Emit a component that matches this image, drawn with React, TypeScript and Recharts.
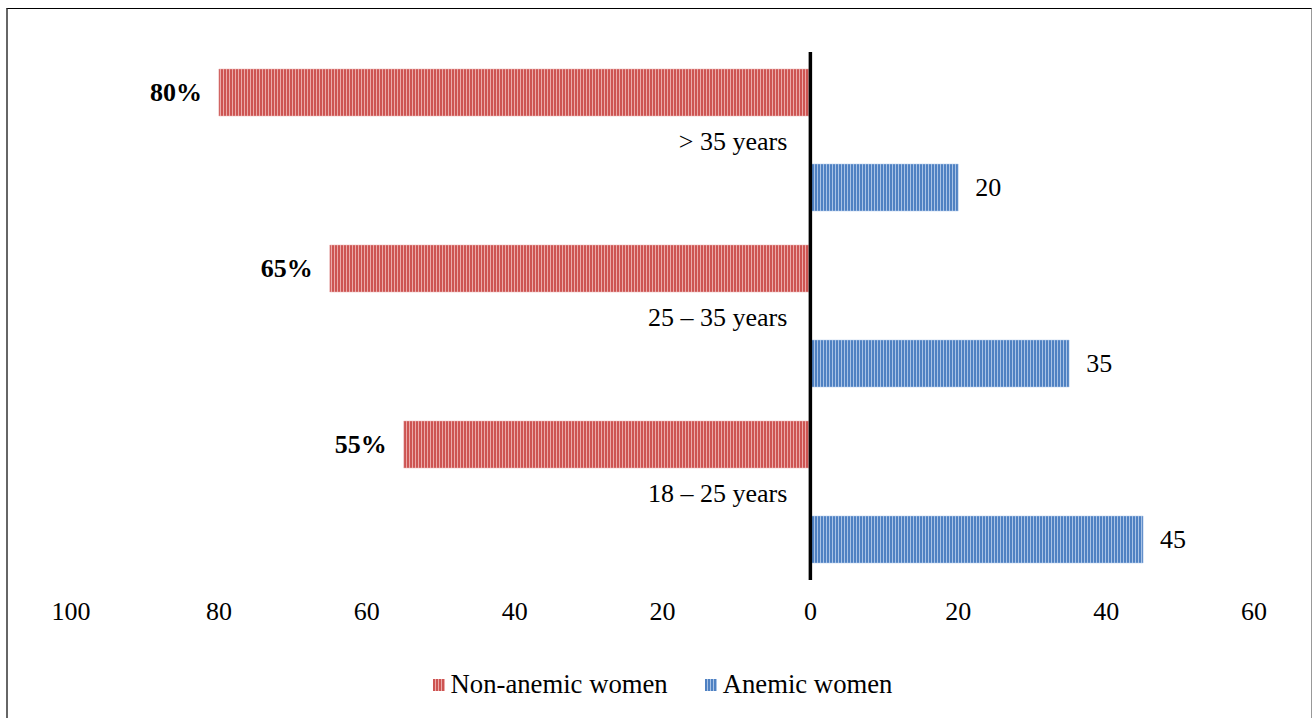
import React from 'react';
import { BarChart, Bar, XAxis, YAxis, ReferenceLine, LabelList, Legend } from 'recharts';

const ageGroups = ['> 35 years', '25 – 35 years', '18 – 25 years'];
const nonAnemic = [80, 65, 55];
const anemic = [20, 35, 45];
const xTicks = [-100, -80, -60, -40, -20, 0, 20, 40, 60];

const data = ageGroups.map((g, i) => ({
  group: g,
  nonAnemic: -nonAnemic[i],
  anemic: anemic[i],
}));

const FONT = '"Liberation Serif", "Times New Roman", serif';

const CategoryLabel = (props: any) => {
  const { x, y, height, value } = props;
  return (
    <text x={x - 23} y={y + height + 25} textAnchor="end" dominantBaseline="central"
      fontFamily={FONT} fontSize={26} fill="#000">
      {value}
    </text>
  );
};

const PercentLabel = (props: any) => {
  const { x, y, width, height, value } = props;
  return (
    <text x={x + width - 17} y={y + height / 2} textAnchor="end" dominantBaseline="central"
      fontFamily={FONT} fontSize={26} fontWeight="bold" fill="#000">
      {`${Math.abs(value)}%`}
    </text>
  );
};

const ValueLabel = (props: any) => {
  const { x, y, width, height, value } = props;
  return (
    <text x={x + width + 17} y={y + height / 2} textAnchor="start" dominantBaseline="central"
      fontFamily={FONT} fontSize={26} fill="#000">
      {value}
    </text>
  );
};

const LegendContent = () => (
  <div style={{ display: 'flex', justifyContent: 'center', alignItems: 'center', fontFamily: FONT, fontSize: 26.7, color: '#000' }}>
    <svg width={12} height={12} style={{ marginRight: 6 }}>
      <rect width={12} height={12} fill="url(#redStripes)" />
    </svg>
    <span style={{ marginRight: 37 }}>Non-anemic women</span>
    <svg width={12} height={12} style={{ marginRight: 6 }}>
      <rect width={12} height={12} fill="url(#blueStripes)" />
    </svg>
    <span>Anemic women</span>
  </div>
);

export default function App() {
  return (
    <div style={{ position: 'absolute', left: 6, top: 8, width: 1303, height: 712, borderTop: '1px solid #000', borderLeft: '2px solid #666', borderRight: '1px solid #999', background: '#fff' }}>
      <BarChart
        width={1301}
        height={711}
        data={data}
        layout="vertical"
        margin={{ top: 43, right: 55, left: 63, bottom: 60 }}
        barCategoryGap={17}
        barGap={48}
      >
        <defs>
          <pattern id="redStripes" width={3} height={10} patternUnits="userSpaceOnUse">
            <rect width={3} height={10} fill="#CD5452" />
            <rect x={2} width={1} height={10} fill="#EBAAA9" />
          </pattern>
          <pattern id="blueStripes" width={3} height={10} patternUnits="userSpaceOnUse">
            <rect width={3} height={10} fill="#4F81C2" />
            <rect x={2} width={1} height={10} fill="#A9C3E6" />
          </pattern>
        </defs>
        <XAxis
          type="number"
          domain={[-100, 60]}
          ticks={xTicks}
          tickFormatter={(v: number) => String(Math.abs(v))}
          axisLine={false}
          tickLine={false}
          tickMargin={16}
          height={40}
          interval={0}
          tick={{ fontFamily: FONT, fontSize: 26, fill: '#000' }}
        />
        <YAxis type="category" dataKey="group" hide />
        <Legend verticalAlign="bottom" height={40} content={<LegendContent />} wrapperStyle={{ top: 660 }} />
        <Bar dataKey="nonAnemic" fill="url(#redStripes)" stroke="#E8B0B0" strokeWidth={0.5} isAnimationActive={false}>
          <LabelList dataKey="nonAnemic" content={<PercentLabel />} />
          <LabelList dataKey="group" content={<CategoryLabel />} />
        </Bar>
        <Bar dataKey="anemic" fill="url(#blueStripes)" stroke="#B0C8E8" strokeWidth={0.5} isAnimationActive={false}>
          <LabelList dataKey="anemic" content={<ValueLabel />} />
        </Bar>
        <ReferenceLine x={0} stroke="#000" strokeWidth={3.5} />
      </BarChart>
    </div>
  );
}
